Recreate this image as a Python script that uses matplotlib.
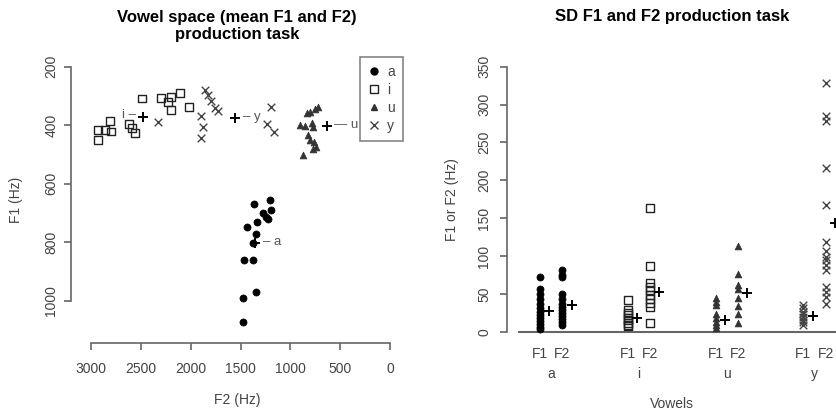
import matplotlib
matplotlib.use("Agg")
import matplotlib.pyplot as plt
from matplotlib.lines import Line2D

plt.rcParams['font.family'] = ['Liberation Sans', 'DejaVu Sans']

# ---------------- data: left panel (Hz) ----------------
vowels = ['a', 'i', 'u', 'y']

a_F2 = [1205, 1362, 1198, 1272, 1245, 1222, 1335, 1438, 1345, 1372, 1465, 1378, 1350, 1475, 1478]
a_F1 = [655, 670, 690, 701, 713, 722, 730, 747, 772, 802, 861, 861, 971, 990, 1074]

i_F2 = [2933, 2933, 2860, 2810, 2800, 2616, 2592, 2560, 2490, 2300, 2200, 2230, 2200, 2110, 2015]
i_F1 = [416, 450, 416, 387, 422, 396, 411, 428, 309, 306, 303, 322, 348, 291, 338]

u_F2 = [904, 850, 837, 804, 753, 720, 787, 770, 820, 804, 764, 743, 777, 871]
u_F1 = [399, 403, 359, 354, 345, 337, 394, 405, 434, 451, 459, 474, 481, 502]

y_F2 = [1860, 1830, 1795, 1756, 1723, 1897, 1874, 1897, 2325, 1195, 1235, 1168]
y_F1 = [279, 298, 317, 340, 351, 370, 407, 445, 388, 338, 395, 423]

mean_F2 = [1355, 2482, 637, 1556]
mean_F1 = [804, 371, 403, 376]

# ---------------- data: right panel (SD, Hz) ----------------
a_sdF1 = [72, 56, 50, 43, 36, 31, 26, 22, 18, 14, 10, 6, 3]
a_sdF2 = [81, 75, 72, 50, 43, 37, 33, 29, 25, 21, 17, 13, 9]
i_sdF1 = [42, 29, 25, 22, 18, 15, 12, 9, 7]
i_sdF2 = [163, 87, 64, 59, 55, 48, 43, 38, 33, 12]
u_sdF1 = [45, 39, 35, 23, 18, 13, 9, 5]
u_sdF2 = [113, 76, 62, 57, 45, 34, 23, 12]
y_sdF1 = [35, 31, 26, 23, 20, 16, 13, 9]
y_sdF2 = [329, 285, 278, 216, 168, 119, 106, 99, 95, 88, 82, 59, 53, 46, 37]
mean_sdF1 = [27, 18, 16, 21]
mean_sdF2 = [35, 53, 51, 143]

x_ticks_left = [3000, 2500, 2000, 1500, 1000, 500, 0]
y_ticks_left = [200, 400, 600, 800, 1000]
y_ticks_right = [0, 50, 100, 150, 200, 250, 300, 350]

# ---------------- styling ----------------
styles = {
    'a': dict(marker='o', s=26, facecolors='black', edgecolors='black', linewidths=0.5),
    'i': dict(marker='s', s=32, facecolors='none', edgecolors='#222222', linewidths=1.0),
    'u': dict(marker='^', s=24, facecolors='#333333', edgecolors='#333333', linewidths=0.5),
    'y': dict(marker='x', s=30, c='#444444', linewidths=1.0),
}
AX_COL = '#666666'
TXT_COL = '#444444'

fig = plt.figure(figsize=(8.37, 4.13), dpi=100)
W, H = 837, 413

def pos(x0, y0, x1, y1):
    return [x0 / W, 1 - y1 / H, (x1 - x0) / W, (y1 - y0) / H]

# ---------------- left panel ----------------
ax = fig.add_axes(pos(70.7, 57, 403, 343))
left_data = {'a': (a_F2, a_F1), 'i': (i_F2, i_F1), 'u': (u_F2, u_F1), 'y': (y_F2, y_F1)}
for v in vowels:
    xs, ys = left_data[v]
    ax.scatter(xs, ys, zorder=3, **styles[v])

ax.scatter(mean_F2, mean_F1, marker='+', s=60, c='black', linewidths=1.4, zorder=4)
offsets = {'a': (6, 'left', '– a'), 'i': (-5, 'right', 'i –'),
           'u': (5, 'left', '— u'), 'y': (6, 'left', '– y')}
for k, v in enumerate(vowels):
    dx, ha, lab = offsets[v]
    ax.annotate(lab, (mean_F2[k], mean_F1[k]), xytext=(dx, 1), textcoords='offset points',
                ha=ha, va='center', fontsize=9.5, color='#555555')

ax.set_xlim(3204, -129)
ax.set_ylim(1145, 167)
ax.set_xticks(x_ticks_left)
ax.set_yticks(y_ticks_left)
for sp in ['top', 'right']:
    ax.spines[sp].set_visible(False)
ax.spines['left'].set_bounds(200, 1000)
ax.spines['bottom'].set_bounds(3000, 0)
for sp in ['left', 'bottom']:
    ax.spines[sp].set_color(AX_COL)
    ax.spines[sp].set_linewidth(1.2)
ax.tick_params(axis='both', colors=AX_COL, labelcolor=TXT_COL, labelsize=10, length=5, width=1.2)
ax.tick_params(axis='x', pad=9)
ax.tick_params(axis='y', pad=4)
for lab in ax.get_yticklabels():
    lab.set_rotation(90)
    lab.set_va('center')
ax.set_xlabel('F2 (Hz)', fontsize=10, color=TXT_COL, labelpad=12)
ax.set_ylabel('F1 (Hz)', fontsize=10, color=TXT_COL, labelpad=15)
ax.set_title('Vowel space (mean F1 and F2)\nproduction task', fontsize=12, fontweight='bold',
             pad=13, linespacing=1.2)

handles = [Line2D([], [], linestyle='none', marker='o', color='black', markersize=5),
           Line2D([], [], linestyle='none', marker='s', markerfacecolor='none',
                  markeredgecolor='#222222', markersize=5.5),
           Line2D([], [], linestyle='none', marker='^', color='#333333', markersize=5),
           Line2D([], [], linestyle='none', marker='x', color='#444444', markersize=5.5)]
leg = ax.legend(handles, vowels, loc='upper right', bbox_to_anchor=(1.0, 1.0),
                frameon=True, fancybox=False, borderaxespad=0, fontsize=10,
                handlelength=0.9, handletextpad=0.45, labelspacing=0.27, borderpad=0.6,
                labelcolor=TXT_COL)
leg.get_frame().set_edgecolor(AX_COL)
leg.get_frame().set_linewidth(1.2)

# ---------------- right panel ----------------
ax2 = fig.add_axes(pos(506.7, 57, 837, 343))
right_data = {'a': (a_sdF1, a_sdF2), 'i': (i_sdF1, i_sdF2),
              'u': (u_sdF1, u_sdF2), 'y': (y_sdF1, y_sdF2)}
f2_off = 0.256
m_off = 0.105
for k, v in enumerate(vowels):
    f1, f2 = right_data[v]
    g = k + 1
    ax2.scatter([g] * len(f1), f1, zorder=3, clip_on=False, **styles[v])
    ax2.scatter([g + f2_off] * len(f2), f2, zorder=3, clip_on=False, **styles[v])
    ax2.scatter([g + m_off], [mean_sdF1[k]], marker='+', s=60, c='black', linewidths=1.4, zorder=4)
    ax2.scatter([g + f2_off + m_off], [mean_sdF2[k]], marker='+', s=60, c='black',
                linewidths=1.4, zorder=4)

ax2.set_xlim(0.621, 4.383)
ax2.set_ylim(-14.9, 362.9)
ax2.axhline(0, xmin=0.037, xmax=1, color=AX_COL, linewidth=1.5, zorder=1)
for sp in ['top', 'right', 'bottom']:
    ax2.spines[sp].set_visible(False)
ax2.spines['left'].set_bounds(0, 350)
ax2.spines['left'].set_color(AX_COL)
ax2.spines['left'].set_linewidth(1.2)
ax2.set_yticks(y_ticks_right)
ax2.tick_params(axis='y', colors=AX_COL, labelcolor=TXT_COL, labelsize=10, length=5, width=1.2, pad=6)
for lab in ax2.get_yticklabels():
    lab.set_rotation(90)
    lab.set_va('center')

groups = [k + 1 for k in range(len(vowels))]
major_pos = []
major_lab = []
for g in groups:
    major_pos += [g, g + f2_off]
    major_lab += ['F1', 'F2']
ax2.set_xticks(major_pos)
ax2.set_xticklabels(major_lab)
ax2.set_xticks([g + f2_off / 2 for g in groups], minor=True)
ax2.set_xticklabels(vowels, minor=True)
ax2.tick_params(axis='x', which='major', length=0, pad=3, labelsize=10, labelcolor=TXT_COL)
ax2.tick_params(axis='x', which='minor', length=0, pad=17, labelsize=10, labelcolor=TXT_COL)
ax2.set_xlabel('Vowels', fontsize=10, color=TXT_COL, labelpad=12)
ax2.set_ylabel('F1 or F2 (Hz)', fontsize=10, color=TXT_COL, labelpad=13)
ax2.set_title('SD F1 and F2 production task', fontsize=12, fontweight='bold', pad=26)

fig.savefig('out.png', dpi=100)
